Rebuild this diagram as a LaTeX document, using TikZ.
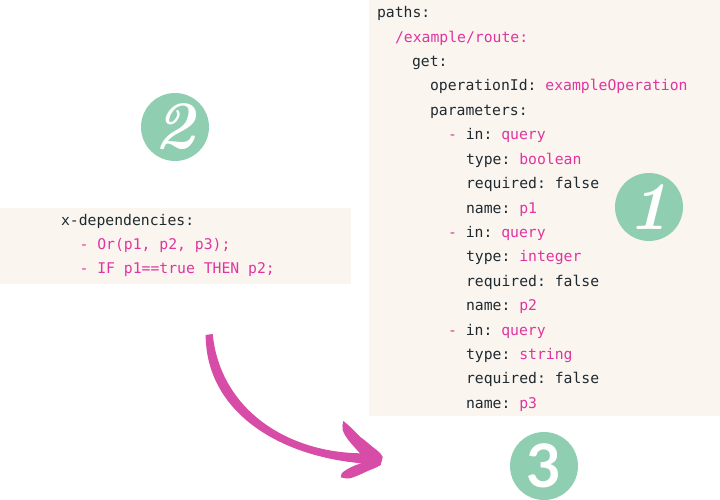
\documentclass[tikz,border=0pt]{standalone}
\usepackage{fontspec}
\setmonofont{DejaVu Sans Mono}
\newfontfamily\numfont{Latin Modern Roman}
\newfontfamily\numsans{Lato}
\definecolor{panelbg}{HTML}{FBF5EF}
\definecolor{codepink}{HTML}{E0359F}
\definecolor{codedark}{HTML}{1F2A30}
\definecolor{badge}{HTML}{8FCEB0}
\definecolor{arrowpink}{HTML}{D64CA6}
\newcommand{\pk}[1]{\textcolor{codepink}{#1}}
\tikzset{
  panel/.style={fill=panelbg,draw=none,anchor=north west,inner sep=0pt,outer sep=0pt},
  code/.style={anchor=base west,inner sep=0pt,outer sep=0pt,text=codedark,font=\ttfamily\fontsize{14.75}{14.75}\selectfont},
  badgenode/.style={circle,fill=badge,draw=none,minimum size=68pt,inner sep=0pt,text=white},
}
\begin{document}
\begin{tikzpicture}[x=1pt,y=-1pt]
\useasboundingbox (0,0) rectangle (720,500);
\node[panel,minimum width=351pt,minimum height=416pt] (rightpanel) at (369,0) {};
\node[panel,minimum width=351pt,minimum height=76pt] (leftpanel) at (0,208) {};
% right code
\node[code] (r1) at (377,17.8) {paths:};
\node[code] (r2) at (395,42.2) {\pk{/example/route:}};
\node[code] (r3) at (412,66.6) {get:};
\node[code] (r4) at (430,91) {operationId: \pk{exampleOperation}};
\node[code] (r5) at (430,115.4) {parameters:};
\node[code] (r6) at (448,139.8) {\pk{-} in: \pk{query}};
\node[code] (r7) at (466,164.2) {type: \pk{boolean}};
\node[code] (r8) at (466,188.6) {required: false};
\node[code] (r9) at (466,213) {name: \pk{p1}};
\node[code] (r10) at (448,237.4) {\pk{-} in: \pk{query}};
\node[code] (r11) at (466,261.8) {type: \pk{integer}};
\node[code] (r12) at (466,286.2) {required: false};
\node[code] (r13) at (466,310.6) {name: \pk{p2}};
\node[code] (r14) at (448,335) {\pk{-} in: \pk{query}};
\node[code] (r15) at (466,359.4) {type: \pk{string}};
\node[code] (r16) at (466,383.8) {required: false};
\node[code] (r17) at (466,408.2) {name: \pk{p3}};
% left code
\node[code] (l1) at (61,225) {x-dependencies:};
\node[code] (l2) at (79.5,249.4) {\pk{- Or(p1, p2, p3);}};
\node[code] (l3) at (79.5,273.8) {\pk{- IF p1==true THEN p2;}};
% badges
\node[badgenode,font=\numfont\itshape\bfseries\fontsize{68}{68}\selectfont] (b1) at (649,207) {1};
\node[badgenode,font=\numfont\itshape\bfseries\fontsize{68}{68}\selectfont] (b2) at (175,127) {2};
\node[badgenode,font=\numsans\bfseries\fontsize{60}{60}\selectfont] (b3) at (544,466) {3};
% arrow
\coordinate (arrowstart) at (205.7,335);
\coordinate (arrowtip) at (382.7,457);
\fill[arrowpink] (arrowstart)
  -- (205.7,338)
  .. controls (208,412) and (278,456) .. (361.7,463.3)
  .. controls (356,464.5) and (346,469) .. (341.7,473.3)
  -- (340.7,477.3)
  .. controls (344,478.5) and (347,478.5) .. (350,478.3)
  .. controls (358,476) and (364,472.5) .. (370,470)
  .. controls (375,468) and (378,467) .. (380.7,465)
  -- (arrowtip)
  .. controls (381,453.5) and (379,452) .. (376.7,450)
  .. controls (371,446) and (366,441) .. (360,436.7)
  .. controls (355,432) and (350,426) .. (343.3,421)
  .. controls (342.5,424) and (342,427) .. (342.7,430)
  .. controls (344,434) and (346,437) .. (348.3,440)
  .. controls (352,444.5) and (356,449) .. (360,453.3)
  .. controls (285,452) and (220,408) .. (212.7,334)
  -- cycle;
\end{tikzpicture}
\end{document}
